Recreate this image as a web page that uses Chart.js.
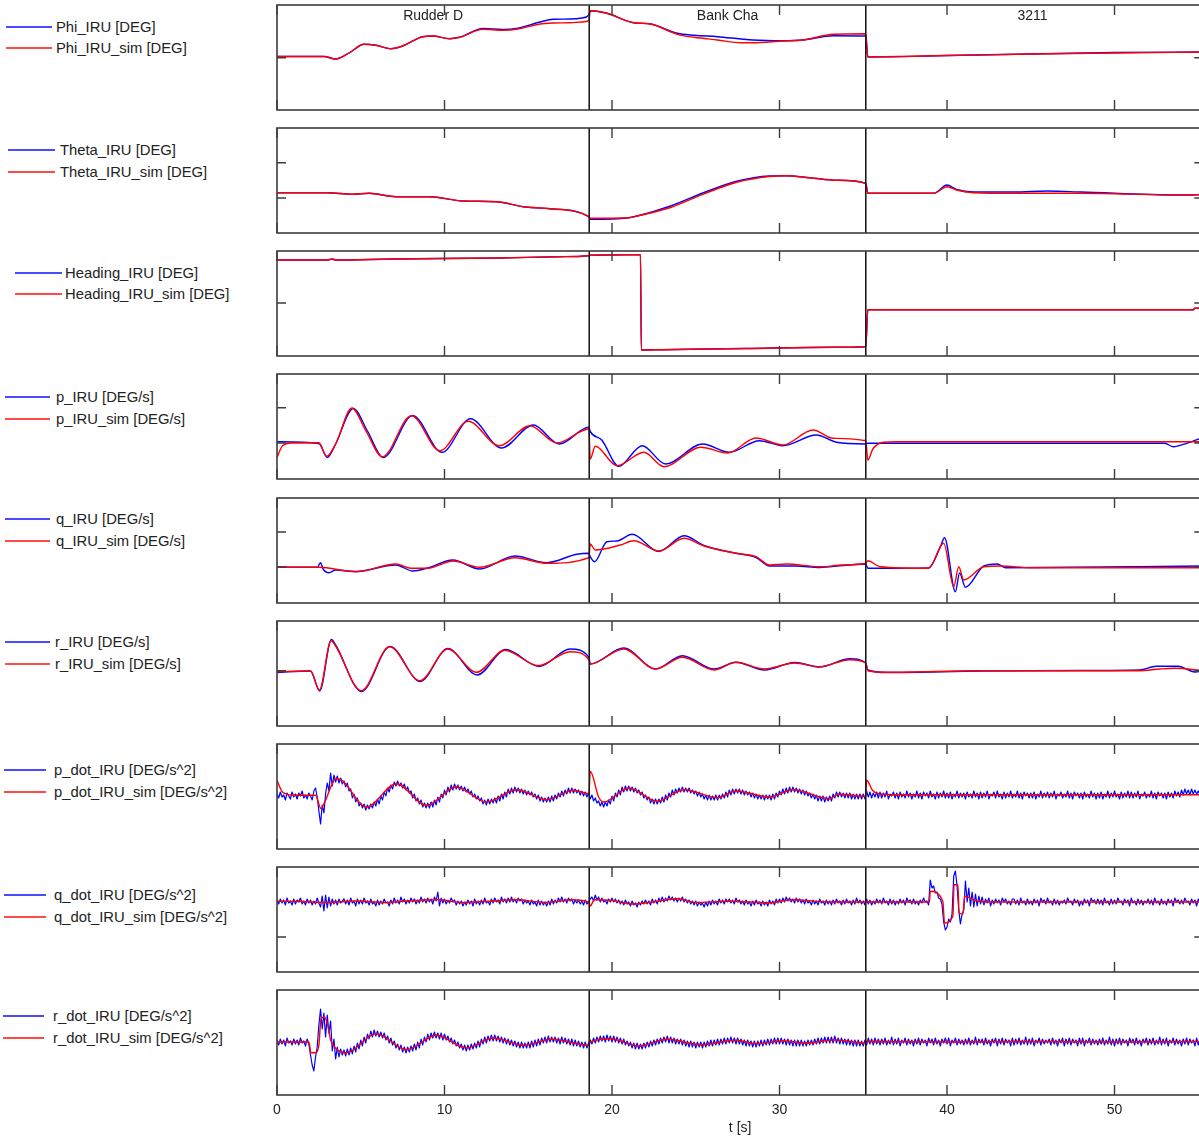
<!DOCTYPE html>
<html>
<head>
<meta charset="utf-8">
<script src="https://cdn.jsdelivr.net/npm/chart.js@4.4.0/dist/chart.umd.min.js"></script>
<style>
  body { margin: 0; width: 1199px; height: 1141px; overflow: hidden; position: relative; background: #fff;
         font-family: "Liberation Sans", Arial, sans-serif; }
  .panel { position: absolute; }
  .leg { position: absolute; font-size: 14.8px; line-height: 16px; color: #222; white-space: nowrap; }
  .legline { position: absolute; height: 2px; }
</style>
</head>
<body>
<script>
// x axis (seconds) and manoeuvre segments
const xTicks = [0, 10, 20, 30, 40, 50];
const segmentEdges = [18.64, 35.15];
const segmentNames = ["Rudder D", "Bank Cha", "3211"];
const segmentLabelX = [9.32, 26.9, 45.1];

// Phi
const phiT = [0, 2.8, 3.5, 4.3, 5.2, 5.9, 6.8, 7.5, 8.7, 9.3, 10.3, 10.9, 12.3, 13.5, 14.3, 15.7, 16.5, 17.5, 18.2, 18.62,
  18.7, 19.0, 19.7, 21.3, 22.3, 23.9, 24.9, 26.3, 27.7, 28.4, 30.2, 31.4, 33.2, 35.15,
  35.27, 40, 45, 50, 55.3];
const phiIru = [53.5, 53.5, 51, 57, 65.7, 64.7, 61.3, 64, 73.3, 74, 71.3, 72.7, 81.5, 80.5, 81.5, 88, 90.7, 91, 92, 95,
  99.3, 99, 96.7, 87.3, 86, 76.7, 74.7, 73.3, 71, 70, 69.3, 70, 74.3, 74,
  53, 54.5, 56, 57.5, 58];
const phiSim = [53.5, 53.5, 51, 57, 65.7, 64.7, 61.3, 64, 73.3, 74, 71.3, 72.7, 80.7, 79.7, 80.7, 86, 87, 87.3, 88, 89.3,
  99.3, 99, 96.7, 87.3, 86, 75.7, 72.7, 70, 67.3, 67.3, 69, 70, 75.7, 76.3,
  53.3, 54.5, 56, 57, 58];

// Theta
const thetaT = [0, 3, 4.5, 5.5, 7.1, 9.1, 11.1, 13.1, 14.7, 16.3, 18.62,
  18.7, 21.0, 21.5, 23.5, 25.5, 27.5, 29.4, 30.4, 31.8, 33.4, 35.15,
  35.27, 39.2, 40.0, 40.56, 41.56, 44, 46, 48, 53.9, 55.3];
const thetaIru = [40.3, 40.3, 38.7, 39.7, 36.3, 36.3, 32, 31.3, 26.3, 24.3, 16.3,
  13.7, 15.3, 17, 27, 40.5, 52, 57, 57.3, 55.3, 52.7, 49.7,
  39.7, 39.7, 48, 43.5, 41, 41, 42, 41, 38, 38.5];
const thetaSim = [40.3, 40.3, 38.7, 39.7, 36.3, 36.3, 32, 31.3, 26.3, 24.3, 16.3,
  14.7, 15.3, 17, 25.5, 39.2, 51, 56.5, 57.3, 55.3, 52.7, 49.7,
  39.7, 39.7, 46.3, 43, 40.3, 39.7, 39.7, 39.7, 38, 38.5];

// Heading
const headT = [0, 3.0, 3.3, 3.5, 6.9, 13.3, 16.8, 18.62,
  18.7, 20.9, 21.7, 21.75, 23, 28, 33.2, 35.15,
  35.27, 54.7, 54.8, 55.3];
const headIru = [96, 96, 97, 96, 97, 98, 99.3, 100.3,
  100.8, 101.3, 101.3, 6, 6.3, 7.5, 8.7, 9.3,
  46.3, 46.3, 47.7, 47.7];
const headSim = [96, 96, 97, 96, 97, 98, 99.3, 100.3,
  100.8, 101.3, 101.3, 6, 6.3, 7.5, 8.7, 9.3,
  46.3, 46.3, 47.7, 47.7];

// p
const pIruT = [0, 2.5, 3.0, 3.5, 4.55, 5.4, 6.35, 8.1, 9.85, 11.55, 13.4, 15.3, 16.85, 18.62,
  18.7, 19.4, 20.4, 21.8, 23.2, 25.4, 27.0, 28.8, 30.2, 32.2, 33.4, 35.15,
  35.27, 53.0, 53.5, 54.3, 55.3];
const pIru = [37.3, 35.5, 21.5, 35, 70.5, 48, 21.5, 63.5, 26.7, 60.3, 31, 54, 35, 51.7,
  47.7, 38.7, 12.7, 33.3, 15, 35, 26.7, 38.3, 33.3, 44, 36.7, 35,
  35.7, 35.7, 32.3, 35.7, 41.7];
const pSimT = [0, 0.33, 0.9, 2.5, 2.97, 3.5, 4.47, 5.3, 6.29, 8.02, 9.72, 11.41, 13.27, 15.1, 16.7, 18.62,
  18.7, 19.0, 20.3, 21.9, 23.1, 25.3, 26.9, 28.6, 30.2, 32.0, 33.2, 35.15,
  35.27, 35.57, 36.2, 37, 55.3];
const pSim = [21.7, 33.3, 36, 36.3, 22.7, 35, 71, 48.3, 22.3, 63.3, 28.3, 57.7, 33.3, 53.3, 36, 50,
  20, 32.7, 13.3, 26.7, 12.3, 31.7, 26, 41, 34, 49, 40.7, 38.3,
  19, 30, 36.7, 37.3, 37.3];

// q
const qIruT = [0, 2.4, 2.6, 2.75, 3.1, 3.5, 4.7, 7.1, 8.1, 9.0, 10.5, 12.1, 14.2, 16.1, 17.9, 18.62,
  18.7, 18.95, 19.7, 20.3, 21.2, 22.8, 24.3, 25.5, 27.4, 28.6, 29.4, 31.0, 32.4, 33.8, 35.15,
  35.27, 38.9, 39.6, 39.85, 40.5, 40.75, 41.1, 42.2, 43.0, 43.5, 55.3];
const qIru = [35.7, 35.7, 40.3, 34, 30.3, 33, 31.5, 38, 32, 35, 43, 34, 47, 40.3, 48.7, 49.7,
  46.3, 41.3, 61.3, 62, 68.7, 51.5, 67.3, 57.5, 49.7, 45.5, 37, 37, 35.5, 37.5, 39,
  34.7, 35, 56, 65.3, 11.3, 30, 15.7, 37, 39, 35.3, 37];
const qSimT = [0, 2.5, 4.7, 7.1, 8.0, 9.0, 10.5, 12.1, 14.2, 16.1, 18.62,
  18.7, 19.0, 20.5, 21.3, 22.8, 24.3, 25.5, 27.4, 28.6, 29.4, 30.4, 32.4, 33.8, 35.15,
  35.27, 36.0, 38.9, 39.8, 40.4, 40.7, 41.0, 42.2, 43.2, 45, 55.3];
const qSim = [35.7, 35.7, 31.3, 39, 34.7, 34.7, 42, 35.7, 45.3, 39.7, 45.3,
  59, 53, 58, 62.3, 52, 64.7, 57, 49.7, 46.3, 38, 39, 36.3, 38, 39.7,
  42.3, 36.3, 34.7, 59.7, 16.3, 36.3, 23, 36.3, 37, 35.3, 35.3];

// r
const rIruT = [0, 2.0, 2.55, 3.25, 3.5, 5.05, 6.75, 8.55, 10.2, 11.95, 13.65, 15.65, 17.5, 18.62,
  18.7, 20.7, 22.6, 24.2, 26.1, 27.4, 29.1, 30.9, 32.4, 34.2, 35.15,
  35.27, 36.5, 42, 48, 51.5, 52.5, 53.8, 54.8, 55.3];
const rIru = [53.5, 55, 35, 86.5, 81, 34.5, 79.5, 44.5, 77.5, 51, 76.5, 59.5, 77, 68.7,
  62, 78, 57, 70.3, 57, 63.7, 56, 63.5, 59, 67.3, 63,
  56, 53.5, 55, 55.5, 56, 59.7, 59.7, 54, 55];
const rSimT = [0, 2.0, 2.53, 3.23, 3.5, 5.03, 6.72, 8.52, 10.2, 11.9, 13.6, 15.6, 17.5, 18.62,
  18.7, 20.7, 22.6, 24.2, 26.1, 27.4, 29.1, 30.9, 32.4, 34.2, 35.15,
  35.27, 36.5, 42, 48, 51.5, 52.7, 53.6, 55.3];
const rSim = [54.3, 55, 36, 85.3, 80, 35.3, 79.3, 45.3, 77, 53.7, 75.7, 60.3, 74.3, 66.3,
  62, 77, 57, 68.7, 56, 63.7, 57, 63, 59.3, 66.3, 63,
  55.3, 53.7, 55.3, 55.3, 55.3, 57, 57.7, 55.3];

// measured accelerations: one value every 0.1 s, one row per second
const noiseStep = 0.1;

// p_dot
const pDotSimT = [0, 0.33, 1.0, 2.3, 2.63, 2.85, 3.53, 3.9, 5.33, 7.13, 8.92, 10.7, 12.5, 14.3, 16.1, 17.7, 18.62,
  18.7, 19.2, 19.5, 21.0, 22.7, 24.3, 26.3, 27.4, 29.4, 30.8, 33.0, 33.5, 35.15,
  35.2, 35.55, 35.9, 37, 55.3];
const pDotSim = [68.7, 57, 53.7, 53.7, 40.3, 47, 70.3, 68.5, 42, 65.3, 43.7, 62, 47, 59.3, 49.3, 58.7, 55.3,
  77.7, 52, 47, 61, 47.7, 59.3, 51.3, 58, 52, 59.3, 50.3, 54.7, 52.7,
  68.7, 58.7, 55.3, 54.3, 54.3];
const pDotIru = [
  55, 51, 57, 52, 54, 49, 56, 53, 50, 57,
  52, 55, 50, 56, 53, 58, 51, 54, 50, 56,
  53, 49, 58, 61, 52, 38, 25, 44, 36, 55,
  66, 58, 76, 63, 74, 67, 73, 66, 71, 65,
  68, 62, 66, 58, 60, 51, 55, 47, 51, 43,
  46, 41, 45, 39, 44, 40, 45, 41, 47, 43,
  50, 45, 53, 49, 57, 53, 61, 57, 64, 60,
  67, 63, 68, 63, 66, 61, 65, 59, 62, 56,
  58, 51, 55, 48, 51, 45, 49, 42, 46, 41,
  46, 41, 47, 42, 49, 44, 52, 47, 55, 51,
  59, 54, 62, 57, 64, 59, 65, 60, 64, 59,
  63, 58, 62, 57, 60, 55, 58, 52, 55, 50,
  53, 48, 51, 45, 49, 44, 50, 45, 50, 46,
  51, 46, 53, 48, 55, 50, 57, 52, 60, 55,
  61, 56, 62, 57, 61, 56, 60, 55, 59, 54,
  58, 54, 57, 52, 55, 50, 54, 48, 52, 47,
  51, 47, 52, 47, 53, 48, 54, 50, 56, 52,
  58, 53, 59, 55, 61, 56, 61, 56, 60, 56,
  59, 54, 58, 53, 57, 52, 56, 50, 54, 48,
  51, 46, 48, 43, 47, 42, 47, 43, 49, 45,
  53, 48, 56, 52, 59, 54, 62, 57, 63, 58,
  63, 58, 62, 57, 61, 56, 59, 54, 57, 51,
  54, 49, 52, 46, 50, 45, 50, 45, 50, 46,
  52, 47, 54, 49, 56, 52, 59, 54, 60, 56,
  61, 57, 62, 57, 61, 57, 61, 56, 59, 55,
  58, 53, 57, 52, 55, 50, 54, 49, 54, 49,
  53, 49, 54, 49, 54, 50, 55, 51, 57, 52,
  59, 54, 60, 55, 60, 56, 60, 55, 59, 54,
  58, 54, 57, 52, 56, 51, 55, 50, 54, 50,
  54, 49, 54, 50, 54, 49, 55, 50, 56, 52,
  58, 54, 60, 55, 61, 56, 62, 57, 62, 57,
  61, 56, 60, 55, 59, 54, 58, 53, 56, 51,
  55, 50, 54, 48, 53, 48, 53, 47, 52, 48,
  53, 48, 55, 51, 57, 52, 57, 52, 56, 51,
  56, 51, 56, 50, 55, 50, 55, 50, 55, 50,
  55, 50, 58, 52, 57, 51, 56, 52, 57, 51,
  57, 51, 56, 52, 58, 50, 55, 53, 57, 51,
  56, 50, 57, 52, 55, 51, 58, 52, 56, 50,
  55, 52, 58, 51, 56, 50, 57, 53, 56, 51,
  58, 52, 55, 50, 57, 51, 56, 52, 58, 51,
  56, 51, 57, 50, 55, 52, 58, 51, 56, 52,
  56, 50, 57, 52, 55, 51, 58, 52, 56, 50,
  57, 51, 56, 52, 58, 50, 55, 53, 57, 51,
  58, 52, 55, 50, 57, 51, 56, 52, 58, 51,
  55, 52, 58, 51, 56, 50, 57, 53, 56, 51,
  56, 51, 57, 50, 55, 52, 58, 51, 56, 52,
  57, 51, 56, 52, 58, 50, 55, 53, 57, 51,
  55, 52, 58, 51, 56, 50, 57, 53, 56, 51,
  56, 50, 57, 52, 55, 51, 58, 52, 56, 50,
  56, 51, 57, 50, 55, 52, 58, 51, 56, 52,
  58, 52, 55, 50, 57, 51, 56, 52, 58, 51,
  57, 51, 56, 52, 58, 50, 55, 53, 57, 51,
  55, 52, 58, 51, 56, 50, 57, 53, 56, 51,
  56, 50, 57, 52, 56, 51, 58, 53, 57, 52,
  59, 54, 60, 55, 59, 54, 60, 55, 59, 55,
  58, 54, 57];

// q_dot
const qDotSimT = [0, 1.5, 3.0, 4.7, 6.5, 7.7, 9.6, 11.0, 12.5, 14.3, 16.0, 17.7, 18.62,
  18.7, 18.95, 20.0, 21.2, 22.4, 23.9, 25.0, 27.0, 29.4, 30.8, 33, 35.15,
  35.2, 38.95, 39.0, 39.75, 39.85, 40.35, 40.42, 40.65, 40.72, 40.95, 41.05, 41.8, 42.5, 55.3];
const qDotSim = [70.7, 70.5, 69.5, 71, 69.5, 71, 72.3, 69.5, 70.5, 72.3, 69.5, 72.3, 69.5,
  66, 72.3, 71.5, 68, 70, 73.3, 69.5, 70.7, 69.3, 72.3, 70, 70,
  70, 70, 80.7, 70.7, 49, 55.7, 87.3, 87.3, 59, 58, 75.7, 71, 70, 70];
const qDotIru = [
  72, 68, 73, 69, 72, 67, 74, 69, 71, 67,
  73, 68, 72, 70, 74, 68, 71, 67, 73, 69,
  72, 67, 71, 68, 74, 69, 65, 76, 61, 77,
  64, 75, 66, 73, 68, 72, 67, 73, 69, 71,
  73, 68, 72, 67, 74, 69, 71, 66, 73, 68,
  72, 68, 74, 69, 71, 67, 73, 68, 70, 66,
  72, 67, 71, 68, 73, 69, 70, 66, 72, 68,
  74, 69, 72, 68, 75, 70, 73, 68, 72, 69,
  74, 70, 73, 68, 72, 69, 75, 70, 73, 69,
  74, 70, 73, 68, 75, 71, 80, 66, 74, 69,
  73, 68, 72, 69, 74, 70, 72, 67, 71, 68,
  71, 66, 70, 67, 72, 68, 71, 66, 73, 68,
  71, 67, 72, 68, 74, 69, 71, 67, 73, 69,
  74, 70, 72, 68, 75, 70, 73, 69, 74, 70,
  75, 70, 73, 69, 74, 71, 73, 68, 72, 69,
  71, 67, 72, 68, 70, 66, 72, 67, 71, 67,
  70, 66, 71, 67, 73, 68, 72, 69, 74, 70,
  75, 70, 73, 69, 74, 71, 73, 68, 72, 69,
  72, 68, 71, 67, 72, 68, 70, 73, 75, 71,
  77, 72, 75, 70, 74, 70, 72, 68, 73, 70,
  74, 70, 73, 69, 72, 68, 71, 67, 72, 68,
  70, 66, 71, 67, 69, 65, 70, 67, 71, 68,
  72, 68, 71, 67, 73, 69, 72, 68, 74, 70,
  75, 70, 74, 71, 76, 72, 75, 71, 74, 70,
  74, 71, 75, 70, 73, 69, 72, 68, 71, 67,
  71, 66, 70, 67, 69, 65, 70, 66, 71, 67,
  72, 68, 71, 67, 73, 69, 72, 68, 73, 70,
  73, 69, 72, 68, 74, 70, 72, 68, 71, 67,
  72, 68, 70, 66, 71, 67, 72, 68, 70, 66,
  71, 67, 70, 66, 72, 68, 71, 67, 73, 69,
  73, 69, 74, 70, 75, 71, 74, 70, 73, 69,
  74, 70, 73, 69, 72, 68, 73, 69, 71, 67,
  72, 68, 71, 67, 73, 69, 71, 67, 72, 68,
  71, 67, 72, 68, 73, 69, 71, 67, 72, 68,
  73, 69, 71, 67, 72, 68, 74, 69, 72, 68,
  71, 67, 73, 68, 72, 67, 71, 68, 73, 69,
  72, 68, 74, 69, 71, 67, 73, 68, 72, 67,
  71, 68, 73, 69, 72, 67, 74, 70, 72, 68,
  73, 68, 71, 67, 72, 69, 74, 70, 71, 67,
  92, 84, 86, 79, 80, 74, 73, 68, 50, 42,
  45, 53, 50, 58, 96, 101, 86, 62, 48, 58,
  62, 91, 70, 84, 66, 80, 65, 78, 66, 76,
  68, 75, 67, 73, 69, 74, 66, 72, 68, 73,
  69, 72, 67, 74, 70, 73, 68, 71, 67, 73,
  73, 68, 72, 67, 74, 69, 71, 67, 73, 68,
  71, 67, 73, 69, 72, 66, 74, 70, 72, 68,
  74, 69, 71, 67, 73, 68, 72, 67, 71, 69,
  72, 68, 74, 70, 71, 67, 73, 69, 72, 66,
  71, 67, 73, 69, 72, 66, 74, 70, 72, 68,
  73, 68, 72, 67, 74, 69, 71, 67, 73, 68,
  72, 68, 74, 70, 71, 67, 73, 69, 72, 66,
  74, 69, 71, 67, 73, 68, 72, 67, 71, 69,
  73, 68, 72, 67, 74, 69, 71, 67, 73, 68,
  71, 67, 73, 69, 72, 66, 74, 70, 72, 68,
  72, 68, 74, 70, 71, 67, 73, 69, 72, 66,
  73, 69, 72];

// r_dot
const rDotSimT = [0, 1.9, 2.03, 2.3, 2.5, 2.63, 2.83, 3.03, 3.2, 3.53, 4.13, 5.93, 7.72, 9.52, 11.3, 12.9, 14.7, 16.4, 18.62,
  18.7, 19.9, 21.6, 23.3, 25.3, 27.4, 28.6, 30.2, 31.6, 33.3, 35.15,
  35.2, 40, 45, 50, 55.3];
const rDotSim = [53, 53, 42.3, 42.3, 50, 76.3, 78, 69.7, 55, 46.3, 42.3, 61.3, 45.3, 59.7, 47, 57, 49.7, 55.7, 49.7,
  53, 56.3, 49, 55.7, 50.3, 54.7, 51.3, 54, 52, 55, 52,
  53.5, 53, 53.5, 53, 53.5];
const rDotIru = [
  55, 50, 56, 51, 55, 49, 57, 52, 54, 50,
  56, 51, 55, 50, 57, 52, 54, 49, 56, 51,
  40, 30, 24, 38, 48, 70, 86, 66, 82, 58,
  80, 62, 74, 44, 56, 36, 48, 38, 46, 40,
  45, 39, 46, 40, 47, 41, 49, 43, 52, 46,
  55, 49, 58, 52, 61, 56, 64, 58, 65, 59,
  64, 58, 63, 57, 62, 55, 59, 52, 57, 50,
  54, 47, 51, 45, 50, 43, 48, 42, 48, 43,
  49, 44, 51, 45, 53, 47, 56, 50, 58, 53,
  61, 55, 62, 57, 63, 57, 62, 56, 62, 55,
  61, 55, 59, 53, 57, 51, 55, 49, 53, 47,
  51, 45, 50, 44, 50, 45, 51, 46, 52, 47,
  54, 48, 56, 51, 58, 52, 59, 54, 60, 54,
  60, 54, 59, 53, 58, 52, 57, 51, 56, 50,
  55, 49, 54, 48, 53, 47, 53, 47, 52, 47,
  53, 47, 54, 48, 55, 49, 56, 50, 57, 52,
  58, 52, 59, 53, 58, 53, 58, 52, 57, 51,
  58, 52, 57, 51, 56, 50, 56, 49, 55, 49,
  54, 48, 53, 47, 53, 47, 52, 55, 51, 57,
  52, 58, 53, 59, 54, 59, 53, 60, 54, 59,
  53, 59, 53, 58, 52, 57, 51, 56, 50, 54,
  49, 53, 47, 52, 46, 52, 46, 51, 46, 52,
  47, 53, 48, 54, 49, 55, 50, 56, 51, 57,
  52, 58, 53, 59, 52, 58, 52, 57, 51, 56,
  51, 56, 50, 55, 49, 54, 48, 54, 48, 53,
  47, 53, 48, 53, 47, 53, 48, 54, 49, 55,
  49, 55, 50, 56, 50, 56, 51, 57, 51, 57,
  52, 58, 52, 57, 51, 57, 51, 56, 50, 55,
  49, 55, 49, 54, 48, 54, 48, 54, 49, 55,
  49, 55, 50, 56, 50, 56, 51, 57, 51, 57,
  51, 57, 51, 56, 50, 56, 50, 55, 49, 55,
  49, 55, 49, 55, 49, 54, 49, 55, 50, 55,
  50, 56, 51, 57, 51, 57, 52, 58, 52, 58,
  52, 58, 52, 59, 52, 57, 51, 57, 51, 56,
  50, 56, 50, 55, 49, 55, 49, 55, 49, 54,
  49, 55, 50, 57, 51, 56, 50, 57, 51, 56,
  50, 56, 51, 57, 50, 55, 51, 58, 50, 56,
  51, 57, 49, 55, 52, 57, 50, 56, 51, 55,
  49, 56, 51, 57, 50, 56, 52, 55, 49, 57,
  52, 56, 50, 57, 51, 55, 49, 56, 52, 57,
  51, 57, 49, 55, 52, 57, 50, 56, 51, 55,
  50, 56, 51, 57, 50, 55, 51, 58, 50, 56,
  52, 56, 50, 57, 51, 55, 49, 56, 52, 57,
  49, 56, 51, 57, 50, 56, 52, 55, 49, 57,
  50, 56, 51, 57, 50, 55, 51, 58, 50, 56,
  51, 57, 49, 55, 52, 57, 50, 56, 51, 55,
  52, 56, 50, 57, 51, 55, 49, 56, 52, 57,
  49, 56, 51, 57, 50, 56, 52, 55, 49, 57,
  51, 57, 49, 55, 52, 57, 50, 56, 51, 55,
  50, 56, 51, 57, 50, 55, 51, 58, 50, 56,
  49, 56, 51, 57, 50, 56, 52, 55, 49, 57,
  52, 56, 50, 57, 51, 55, 49, 56, 52, 57,
  50, 56, 51, 57, 50, 55, 51, 58, 50, 56,
  51, 57, 49, 55, 52, 57, 50, 56, 51, 55,
  49, 56, 51, 57, 50, 56, 52, 55, 49, 57,
  50, 56, 52];

const denseT = (vals) => vals.map((_, i) => i * noiseStep);

// one row per subplot
const panels = [
  { names: ["Phi_IRU [DEG]", "Phi_IRU_sim [DEG]"], iru: [phiT, phiIru], sim: [phiT, phiSim], yTicks: [52.3], titles: true },
  { names: ["Theta_IRU [DEG]", "Theta_IRU_sim [DEG]"], iru: [thetaT, thetaIru], sim: [thetaT, thetaSim], yTicks: [70.3, 35] },
  { names: ["Heading_IRU [DEG]", "Heading_IRU_sim [DEG]"], iru: [headT, headIru], sim: [headT, headSim], yTicks: [53] },
  { names: ["p_IRU [DEG/s]", "p_IRU_sim [DEG/s]"], iru: [pIruT, pIru], sim: [pSimT, pSim], yTicks: [71.3, 36] },
  { names: ["q_IRU [DEG/s]", "q_IRU_sim [DEG/s]"], iru: [qIruT, qIru], sim: [qSimT, qSim], yTicks: [71, 36] },
  { names: ["r_IRU [DEG/s]", "r_IRU_sim [DEG/s]"], iru: [rIruT, rIru], sim: [rSimT, rSim], yTicks: [55.3] },
  { names: ["p_dot_IRU [DEG/s^2]", "p_dot_IRU_sim [DEG/s^2]"], iru: [denseT(pDotIru), pDotIru], sim: [pDotSimT, pDotSim], yTicks: [], dense: true },
  { names: ["q_dot_IRU [DEG/s^2]", "q_dot_IRU_sim [DEG/s^2]"], iru: [denseT(qDotIru), qDotIru], sim: [qDotSimT, qDotSim], yTicks: [35], dense: true },
  { names: ["r_dot_IRU [DEG/s^2]", "r_dot_IRU_sim [DEG/s^2]"], iru: [denseT(rDotIru), rDotIru], sim: [rDotSimT, rDotSim], yTicks: [], dense: true },
];

// page layout
const panelTops = [5, 128, 251, 374, 498, 621, 744, 867, 990];
const legendLayout = [
  { line: [6, 52], text: 56, rows: [26.5, 48.3] },
  { line: [8, 55], text: 60, rows: [150, 171.7] },
  { line: [15, 62], text: 65, rows: [272.7, 294.3] },
  { line: [5, 50], text: 56, rows: [397, 419] },
  { line: [5, 50], text: 56, rows: [519, 541] },
  { line: [5, 50], text: 55, rows: [642, 664] },
  { line: [4, 46], text: 54, rows: [770, 791.7] },
  { line: [4, 46], text: 54, rows: [895, 916.7] },
  { line: [3, 44], text: 53, rows: [1016, 1037.7] },
];

Chart.defaults.font.family = '"Liberation Sans", Arial, sans-serif';
Chart.defaults.color = "#222";

const framePlugin = {
  id: "frame",
  afterDatasetsDraw(chart, args, opts) {
    const { ctx, chartArea: a, scales: { x, y } } = chart;
    ctx.save();
    // segment names on the first subplot
    if (opts.titles) {
      ctx.fillStyle = "#222";
      ctx.font = '14px "Liberation Sans", Arial, sans-serif';
      ctx.textAlign = "center";
      ctx.textBaseline = "alphabetic";
      segmentNames.forEach((s, i) => ctx.fillText(s, x.getPixelForValue(segmentLabelX[i]), a.top + 14.5));
    }
    // separators between manoeuvres
    ctx.strokeStyle = "#1a1a1a";
    ctx.lineWidth = 1.6;
    segmentEdges.forEach((v) => {
      const px = x.getPixelForValue(v);
      ctx.beginPath(); ctx.moveTo(px, a.top); ctx.lineTo(px, a.bottom); ctx.stroke();
    });
    // inward ticks
    ctx.strokeStyle = "#3c3c3c";
    ctx.lineWidth = 1.4;
    xTicks.forEach((v) => {
      const px = x.getPixelForValue(v);
      ctx.beginPath();
      ctx.moveTo(px, a.top); ctx.lineTo(px, a.top + 10);
      ctx.moveTo(px, a.bottom); ctx.lineTo(px, a.bottom - 10);
      ctx.stroke();
    });
    opts.yTicks.forEach((v) => {
      const py = y.getPixelForValue(v);
      ctx.beginPath();
      ctx.moveTo(a.left, py); ctx.lineTo(a.left + 9, py);
      ctx.moveTo(a.right, py); ctx.lineTo(a.right - 9, py);
      ctx.stroke();
    });
    ctx.lineWidth = 1.6;
    ctx.strokeRect(a.left, a.top, a.right - a.left, a.bottom - a.top);
    ctx.restore();
  },
};

const toPoints = (ts, vs) => vs.map((v, i) => ({ x: ts[i], y: v }));

panels.forEach((p, i) => {
  const last = i === panels.length - 1;
  // the bottom axis labels push the plot area 2px right, so that canvas starts 2px earlier
  const padL = last ? 12 : 10;
  const W = 940 + padL, H = last ? 161 : 125;
  const wrap = document.createElement("div");
  wrap.className = "panel";
  wrap.style.left = (277 - padL) + "px";
  wrap.style.top = (panelTops[i] - 10) + "px";
  const cv = document.createElement("canvas");
  cv.width = W; cv.height = H;
  cv.style.width = W + "px"; cv.style.height = H + "px";
  wrap.appendChild(cv);
  document.body.appendChild(wrap);

  // legend
  const lg = legendLayout[i];
  ["#4a4aff", "#ff4a4a"].forEach((c, k) => {
    const ln = document.createElement("div");
    ln.className = "legline";
    ln.style.left = lg.line[0] + "px";
    ln.style.width = (lg.line[1] - lg.line[0]) + "px";
    ln.style.top = (Math.round(lg.rows[k]) - 1) + "px";
    ln.style.background = c;
    document.body.appendChild(ln);
    const tx = document.createElement("div");
    tx.className = "leg";
    tx.style.left = lg.text + "px";
    tx.style.top = (lg.rows[k] - 8) + "px";
    tx.textContent = p.names[k];
    document.body.appendChild(tx);
  });

  const xScale = {
    type: "linear",
    min: 0,
    max: 55.3,
    display: last,
    afterBuildTicks: (s) => { s.ticks = xTicks.map((v) => ({ value: v })); },
    grid: { display: false, drawTicks: false },
    border: { display: false },
    ticks: { font: { size: 14 }, color: "#222", padding: 7, maxRotation: 0 },
    title: { display: true, text: "t [s]", font: { size: 14 }, color: "#222", padding: { top: 0, bottom: 0 } },
  };
  if (last) xScale.afterFit = (s) => { s.height = 42; };

  new Chart(cv, {
    type: "line",
    data: {
      datasets: [
        {
          label: p.names[1],
          data: toPoints(p.sim[0], p.sim[1]),
          borderColor: "#ff0000",
          borderWidth: 1.4,
          cubicInterpolationMode: "monotone",
          order: 1,
        },
        {
          label: p.names[0],
          data: toPoints(p.iru[0], p.iru[1]),
          borderColor: "#0000ff",
          borderWidth: p.dense ? 1.2 : 1.4,
          cubicInterpolationMode: p.dense ? "default" : "monotone",
          tension: 0,
          order: 2,
        },
      ],
    },
    options: {
      responsive: false,
      animation: false,
      devicePixelRatio: 1,
      layout: { padding: { left: padL, right: 13.7, top: 10, bottom: last ? 4 : 10 } },
      elements: { point: { radius: 0 }, line: { borderJoinStyle: "round" } },
      plugins: {
        legend: { display: false },
        tooltip: { enabled: false },
        frame: { yTicks: p.yTicks, titles: !!p.titles },
      },
      scales: {
        x: xScale,
        y: { min: 0, max: 105, display: false },
      },
    },
    plugins: [framePlugin],
  });
});
</script>
</body>
</html>
